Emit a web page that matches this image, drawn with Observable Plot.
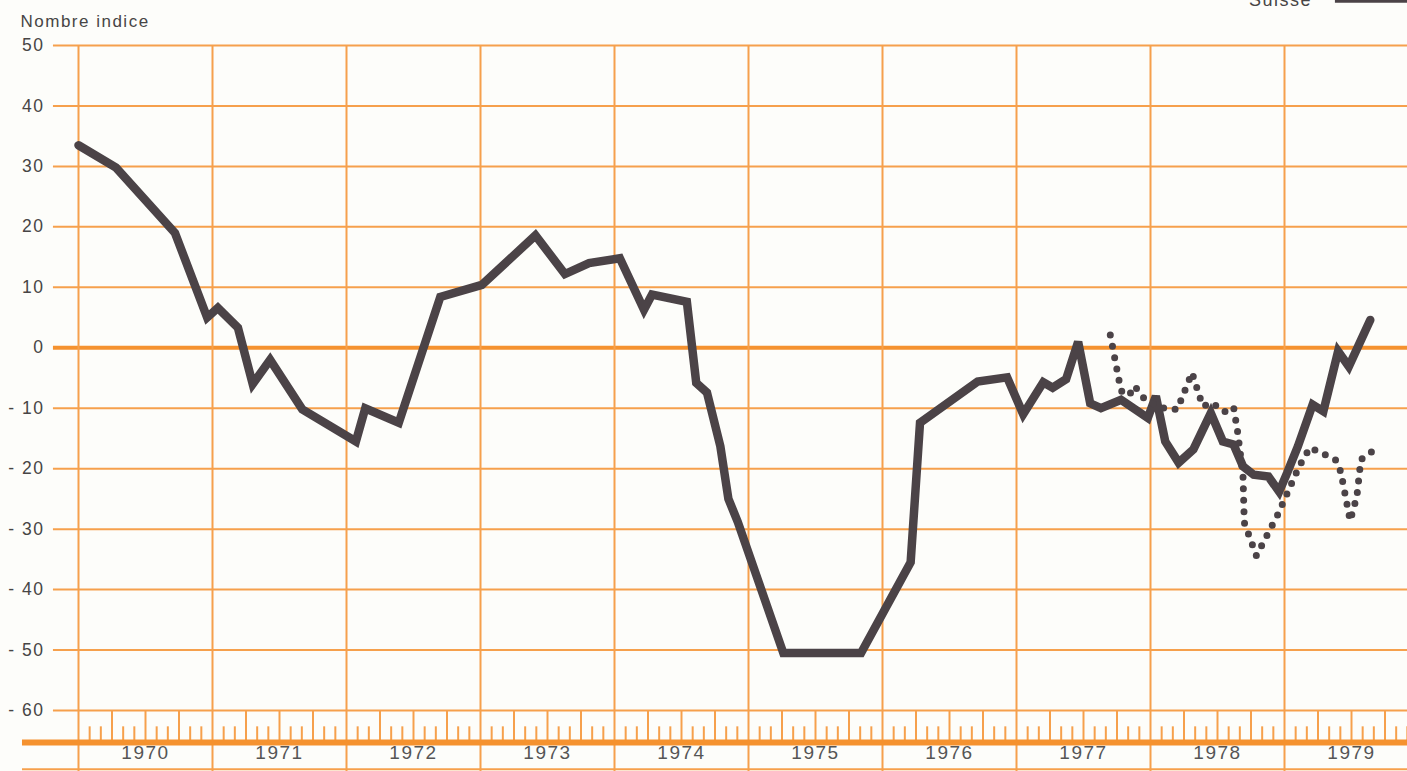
<!DOCTYPE html>
<html>
<head>
<meta charset="utf-8">
<script src="https://cdn.jsdelivr.net/npm/d3@7"></script>
<script src="https://cdn.jsdelivr.net/npm/@observablehq/plot@0.6"></script>
<style>
  html, body { margin: 0; padding: 0; background: #fdfdfa; }
  #chart svg { display: block; }
  #chart svg text { letter-spacing: 1.5px; }
</style>
</head>
<body>
<div id="chart"></div>
<script>
// ---- Data ----
const title = "Nombre indice";
const legendLabel = "Suisse";

const yearStarts = [1970, 1971, 1972, 1973, 1974, 1975, 1976, 1977, 1978, 1979, 1980];
const yearLabels = ["1970", "1971", "1972", "1973", "1974", "1975", "1976", "1977", "1978", "1979"];
const yTicks = [50, 40, 30, 20, 10, 0, -10, -20, -30, -40, -50, -60];

// Solid series (decimal year, index value)
const solidDates = [
  1970.00, 1970.28, 1970.72, 1970.96, 1971.04, 1971.19, 1971.30, 1971.43, 1971.67,
  1972.07, 1972.14, 1972.39, 1972.70, 1973.01, 1973.41, 1973.63, 1973.81, 1974.04,
  1974.22, 1974.28, 1974.54, 1974.61, 1974.69, 1974.79, 1974.85, 1974.92, 1975.26,
  1975.84, 1976.21, 1976.28, 1976.71, 1976.93, 1977.05, 1977.20, 1977.27, 1977.37,
  1977.46, 1977.55, 1977.63, 1977.78, 1977.98, 1978.04, 1978.11, 1978.21, 1978.32,
  1978.45, 1978.54, 1978.62, 1978.69, 1978.77, 1978.88, 1978.96, 1979.02, 1979.10,
  1979.21, 1979.29, 1979.40, 1979.48, 1979.64
];
const solidValues = [
  33.5, 29.8, 19.0, 5.0, 6.6, 3.3, -6.0, -2.0, -10.2,
  -15.5, -10.0, -12.4, 8.4, 10.4, 18.6, 12.2, 14.0, 14.8,
  6.3, 8.8, 7.6, -5.8, -7.4, -16.3, -25.0, -28.8, -50.5,
  -50.5, -35.5, -12.4, -5.6, -4.9, -11.0, -5.7, -6.6, -5.2,
  1.0, -9.2, -10.0, -8.6, -11.6, -8.0, -15.5, -19.0, -16.8,
  -10.8, -15.5, -16.0, -19.6, -21.0, -21.3, -23.8, -20.7, -16.3,
  -9.4, -10.5, -0.6, -3.1, 4.6
];

// Dotted series (decimal year, index value)
const dottedDates = [
  1977.70, 1977.78, 1977.84, 1977.88, 1977.96, 1978.08, 1978.20, 1978.31, 1978.39,
  1978.46, 1978.55, 1978.62, 1978.65, 1978.69, 1978.70, 1978.79, 1978.95, 1979.11,
  1979.19, 1979.38, 1979.42, 1979.49, 1979.54, 1979.57, 1979.65
];
const dottedValues = [
  2.1, -7.1, -7.9, -6.3, -8.6, -9.9, -10.2, -4.1, -9.7,
  -9.1, -10.6, -9.8, -13.9, -21.0, -28.9, -34.4, -27.6, -19.6,
  -16.5, -18.5, -20.5, -28.6, -24.6, -18.5, -17.2
];

// ---- Build ----
const solid = solidDates.map((t, i) => ({t, v: solidValues[i]}));
const dotted = dottedDates.map((t, i) => ({t, v: dottedValues[i]}));

const quarters = [];
const months = [];
for (const y of yearStarts.slice(0, 10)) {
  for (const q of [1, 2, 3]) quarters.push(y + q / 4);
  for (const m of [1, 2, 4, 5, 7, 8, 10, 11]) months.push(y + m / 12);
}

const grid = "#f6a04c";
const gridStrong = "#f5922f";
const ink = "#4b4347";
const txt = "#474545";
const font = "'Liberation Sans', Arial, Helvetica, sans-serif";

const chart = Plot.plot({
  width: 1407,
  height: 771,
  marginTop: 0, marginRight: 0, marginBottom: 0, marginLeft: 0,
  style: {background: "#fdfdfa", fontFamily: font},
  x: {type: "linear", domain: [1970, 1980], range: [78, 1418], axis: null},
  y: {type: "linear", domain: [-60, 50], range: [710, 45], axis: null},
  marks: [
    // horizontal grid
    Plot.ruleY(yTicks.filter(d => d !== 0), {y: d => d, x1: 1969.813, x2: 1981, stroke: grid, strokeWidth: 2}),
    Plot.ruleY([0], {x1: 1969.813, x2: 1981, stroke: gridStrong, strokeWidth: 4}),
    // vertical year lines
    Plot.ruleX(yearStarts, {y1: 50, y2: -70.5, stroke: grid, strokeWidth: 2}),
    // quarter and month ticks
    Plot.ruleX(quarters, {y1: -60, y2: -65.3, stroke: grid, strokeWidth: 2}),
    Plot.ruleX(months, {y1: -62.7, y2: -65.3, stroke: grid, strokeWidth: 2}),
    // bottom axis lines
    Plot.ruleY([-65.3], {x1: 1969.582, x2: 1981, stroke: gridStrong, strokeWidth: 6}),
    Plot.ruleY([-69.7], {x1: 1969.582, x2: 1981, stroke: grid, strokeWidth: 2}),
    // y labels
    Plot.text(yTicks, {
      y: d => d, text: d => d < 0 ? "- " + Math.abs(d) : String(d),
      frameAnchor: "left", dx: 44, textAnchor: "end",
      fontSize: 17.5, fill: txt
    }),
    // year labels
    Plot.text(yearLabels, {
      x: (d, i) => yearStarts[i] + 0.5, frameAnchor: "bottom", dy: -13,
      fontSize: 19, fill: "#555"
    }),
    // title
    Plot.text([title], {
      frameAnchor: "top-left", dx: 20, dy: 21, textAnchor: "start", lineAnchor: "middle",
      fontSize: 17, fill: txt
    }),
    // legend (cut off at the top edge, as in the picture)
    Plot.text([legendLabel], {
      x: 1978.97, frameAnchor: "top", dy: 5, lineAnchor: "bottom",
      fontSize: 18, fill: txt
    }),
    Plot.ruleY([57.4], {x1: 1979.38, x2: 1981, stroke: ink, strokeWidth: 4}),
    // series
    Plot.line(solid, {x: "t", y: "v", stroke: ink, strokeWidth: 8.5, strokeLinejoin: "miter", strokeMiterlimit: 3, curve: "linear"}),
    Plot.line(dotted, {x: "t", y: "v", stroke: ink, strokeWidth: 7, strokeLinecap: "round", strokeDasharray: "0 11.5", curve: "linear"})
  ]
});
document.getElementById("chart").append(chart);
</script>
</body>
</html>
